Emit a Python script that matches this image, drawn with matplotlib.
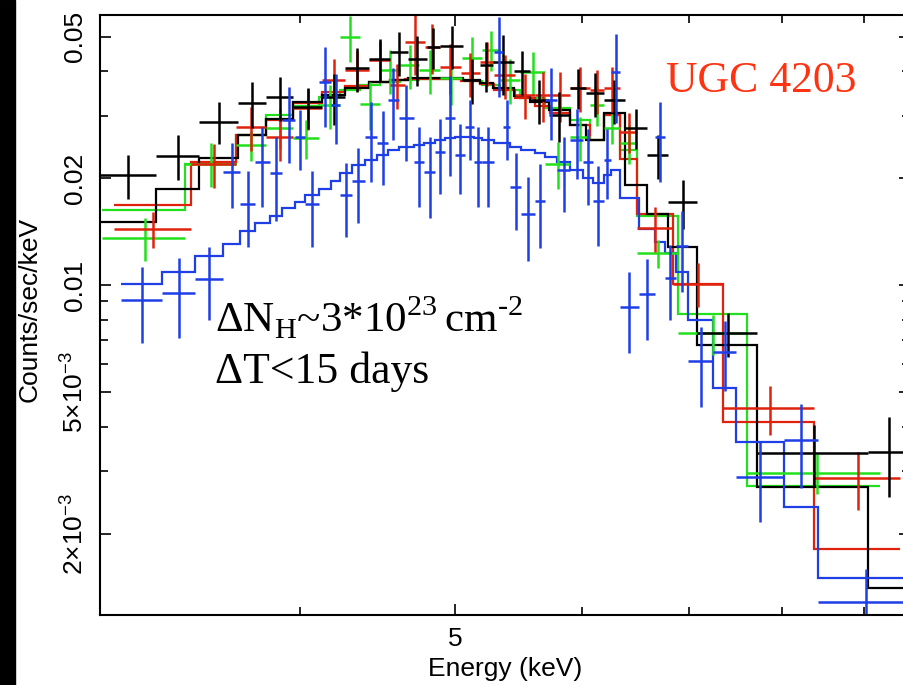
import numpy as np
import matplotlib
matplotlib.use("Agg")
import matplotlib.pyplot as plt
from matplotlib.ticker import NullFormatter
from matplotlib.patches import Rectangle

plt.rcParams['font.family'] = 'Liberation Sans'
plt.rcParams['mathtext.fontset'] = 'custom'
plt.rcParams['mathtext.rm'] = 'Liberation Serif'
plt.rcParams['mathtext.sf'] = 'Liberation Sans'

###############################################################################
# Data: bin edges in keV, rates / errors / model in 1e-3 counts/sec/keV
###############################################################################
black_edges = [3.00, 3.25, 3.46, 3.66, 3.81, 3.96, 4.13, 4.27, 4.42, 4.55, 4.67, 4.80, 4.89,
               5.06, 5.18, 5.28, 5.44, 5.57, 5.72, 5.90, 6.04, 6.19, 6.38, 6.59, 6.79, 7.08,
               7.72, 9.05, 9.62]
black_rate = [20.4, 23.1, 28.8, 32.5, 33.8, 31.7, 33.8, 40.8, 43.3, 45.3, 43.3, 46.8, 47.1,
              37.8, 41.6, 42.4, 40.0, 33.2, 30.1, 35.9, 34.7, 33.2, 27.7, 23.2, 17.1, 7.32,
              3.38, 3.40]
black_err = [2.9, 3.3, 3.9, 4.8, 4.8, 4.1, 5.6, 5.8, 6.1, 6.4, 7.0, 6.3, 6.4, 5.4, 6.7, 8.1,
             5.7, 4.7, 4.8, 4.6, 4.9, 4.7, 3.6, 3.3, 2.7, 1.04, 0.65, 0.86]
black_model = [15.1, 18.6, 22.8, 26.4, 29.3, 32.7, 34.3, 35.9, 37.3, 37.8, 38.3, 38.3, 38.3,
               37.8, 37.0, 35.9, 34.0, 32.7, 31.1, 28.2, 25.6, 30.5, 19.1, 15.9, 12.8, 6.77,
               2.70, 1.41]

red_edges = [3.06, 3.42, 3.65, 3.81, 3.96, 4.13, 4.27, 4.42, 4.55, 4.65, 4.79, 4.89, 5.04,
             5.18, 5.29, 5.45, 5.61, 5.73, 5.90, 6.07, 6.19, 6.34, 6.50, 6.84, 7.35, 8.38, 9.48]
red_rate = [14.4, 21.9, 27.8, 26.1, 31.5, 37.8, 40.3, 43.0, 36.6, 48.3, 46.8, 41.1, 39.5,
            42.4, 39.0, 34.3, 34.3, 34.3, 35.9, 35.4, 35.9, 27.0, 14.5, 10.1, 4.50, 2.86]
red_err = [1.7, 3.1, 3.9, 3.7, 4.1, 5.4, 5.2, 5.6, 5.2, 9.3, 7.5, 6.6, 5.6, 6.0, 5.5, 4.9,
           5.5, 5.5, 5.1, 5.0, 5.1, 3.5, 2.1, 1.43, 0.70, 0.53]
red_model = [16.8, 22.2, 26.4, 29.1, 32.5, 34.9, 36.3, 37.3, 37.8, 38.0, 38.0, 38.0, 37.5,
             36.8, 35.4, 33.6, 31.9, 30.5, 28.2, 25.6, 30.1, 22.6, 15.9, 10.1, 4.11, 1.81]

green_edges = [3.01, 3.39, 3.65, 3.81, 3.96, 4.11, 4.24, 4.36, 4.49, 4.62, 4.75, 4.89, 5.05,
               5.20, 5.33, 5.49, 5.69, 5.90, 6.07, 6.19, 6.34, 6.50, 6.89, 7.61, 9.22]
green_rate = [13.6, 22.0, 24.8, 27.7, 25.9, 32.1, 50.0, 32.3, 40.3, 41.6, 40.3, 38.3, 43.6,
              45.9, 37.8, 39.8, 22.0, 26.1, 32.1, 27.7, 25.1, 12.3, 7.32, 2.97]
green_err = [1.9, 3.1, 2.4, 3.6, 3.3, 4.6, 7.4, 5.0, 5.7, 5.9, 5.7, 6.2, 6.2, 5.9, 5.4, 5.6,
             3.3, 3.7, 4.1, 2.7, 3.2, 1.1, 0.95, 0.38]
green_model = [16.3, 22.0, 26.4, 30.1, 31.9, 33.8, 35.4, 36.6, 37.3, 37.8, 38.0, 38.0, 37.5,
               36.6, 35.4, 33.6, 31.5, 29.1, 25.6, 30.1, 24.0, 15.7, 8.28, 2.73]

blue_edges = [3.09, 3.28, 3.44, 3.58, 3.67, 3.75, 3.83, 3.90, 3.97, 4.03, 4.11, 4.18, 4.24,
              4.31, 4.39, 4.47, 4.54, 4.61, 4.71, 4.78, 4.86, 4.93, 5.00, 5.07, 5.14, 5.20,
              5.29, 5.36, 5.41, 5.50, 5.61, 5.69, 5.79, 5.90, 6.01, 6.10, 6.19, 6.26, 6.34,
              6.51, 6.67, 6.76, 6.87, 6.99, 7.25, 7.49, 8.02, 8.43, 9.62]
blue_rate = [9.06, 9.49, 10.4, 20.8, 16.9, 22.2, 20.7, 29.1, 26.1, 16.9, 37.3, 32.1, 17.9,
             19.7, 26.1, 25.1, 33.2, 29.5, 22.2, 20.8, 23.7, 29.5, 23.2, 27.8, 22.2, 22.2,
             45.3, 27.8, 18.9, 15.9, 17.3, 33.2, 21.1, 25.6, 22.2, 17.3, 22.5, 39.8, 8.66,
             9.43, 26.1, 10.5, 12.9, 6.10, 6.47, 2.88, 3.66, 1.28]
blue_err = [2.2, 2.4, 2.4, 4.3, 4.1, 5.6, 5.5, 7.0, 5.0, 4.1, 9.5, 7.2, 4.2, 4.7, 6.6, 5.9,
            7.6, 7.1, 5.6, 5.3, 5.7, 9.2, 5.2, 5.3, 5.6, 5.6, 11.5, 5.3, 4.6, 4.2, 4.6, 7.6,
            5.0, 5.7, 5.4, 4.4, 5.0, 11.2, 2.2, 2.4, 6.6, 2.5, 3.3, 1.55, 1.44, 0.73, 0.97,
            0.31]
blue_model = [10.1, 10.9, 12.1, 13.1, 14.2, 15.0, 15.7, 16.5, 17.1, 17.9, 18.7, 19.7, 20.7,
              21.8, 22.5, 23.2, 24.0, 24.5, 24.8, 25.1, 25.6, 25.9, 26.1, 26.1, 25.9, 25.6,
              25.1, 25.1, 24.5, 24.0, 23.5, 22.9, 22.2, 21.1, 20.0, 19.4, 20.4, 21.1, 17.6,
              14.4, 13.2, 12.3, 10.9, 7.96, 5.15, 3.63, 2.37, 1.50]

ytick_vals = [0.002, 0.005, 0.01, 0.02, 0.05]
ytick_labels = [r'2×10$^{\mathsf{-3}}$', r'5×10$^{\mathsf{-3}}$', '0.01', '0.02', '0.05']
yminor_vals = [0.003, 0.004, 0.006, 0.007, 0.008, 0.009, 0.03, 0.04]
xtick_vals = [5]
xtick_labels = ['5']
xminor_vals = [3, 4, 6, 7, 8, 9]

BLACK = '#000000'
RED = '#e0220c'
GREEN = '#22e01c'
BLUE = '#1e3ee6'


def draw_spectrum(ax, edges, rate, err, model, color):
    edges = np.array(edges)
    rate = np.array(rate) * 1e-3
    err = np.array(err) * 1e-3
    model = np.array(model) * 1e-3
    mid = 0.5 * (edges[:-1] + edges[1:])
    ax.errorbar(mid, rate, xerr=[mid - edges[:-1], edges[1:] - mid], yerr=err,
                fmt='none', ecolor=color, elinewidth=1.8, capsize=0)
    ax.stairs(model, edges, baseline=None, color=color, lw=1.6)


###############################################################################
# Figure
###############################################################################
fig = plt.figure(figsize=(9.04, 6.85), dpi=100)
fig.patches.append(Rectangle((0, 0), 15 / 904, 1, transform=fig.transFigure,
                             color='black', zorder=0))
ax = fig.add_axes([100 / 904, 70 / 685, 810 / 904, 600 / 685])

draw_spectrum(ax, green_edges, green_rate, green_err, green_model, GREEN)
draw_spectrum(ax, red_edges, red_rate, red_err, red_model, RED)
draw_spectrum(ax, black_edges, black_rate, black_err, black_model, BLACK)
draw_spectrum(ax, blue_edges, blue_rate, blue_err, blue_model, BLUE)

ax.set_xscale('log')
ax.set_yscale('log')
ax.set_xlim(3.0, 9.62)
ax.set_ylim(1.18e-3, 57.6e-3)

ax.set_xticks(xtick_vals, xtick_labels, fontsize=19)
ax.set_xticks(xminor_vals, minor=True)
ax.xaxis.set_minor_formatter(NullFormatter())
ax.set_yticks(ytick_vals, ytick_labels, rotation=90, va='center', fontsize=19)
ax.set_yticks(yminor_vals, minor=True)
ax.yaxis.set_minor_formatter(NullFormatter())

ax.tick_params(which='both', direction='in', top=True, right=True, width=1.2)
ax.tick_params(which='major', length=8)
ax.tick_params(which='minor', length=6)
ax.tick_params(axis='x', pad=9)
ax.tick_params(axis='y', pad=9)
for s in ax.spines.values():
    s.set_linewidth(1.5)

ax.set_xlabel('Energy (keV)', fontsize=19, labelpad=4)
ax.set_ylabel('Counts/sec/keV', fontsize=19)
ax.yaxis.set_label_coords(-0.072, 0.51)

fig.text(761 / 904, 1 - 92 / 685, 'UGC 4203', ha='center', va='baseline',
         color='#ff3312', family='Liberation Serif', fontsize=31.5)
fig.text(215 / 904, 1 - 332 / 685,
         r'ΔN$_{\mathrm{H}}$~3*10$^{\mathrm{23}}\,$cm$^{\text{-2}}$',
         ha='left', va='baseline', family='Liberation Serif', fontsize=31)
fig.text(215 / 904, 1 - 383 / 685, 'ΔT<15 days', ha='left', va='baseline',
         family='Liberation Serif', fontsize=31.5)

fig.savefig('out.png', dpi=100)
